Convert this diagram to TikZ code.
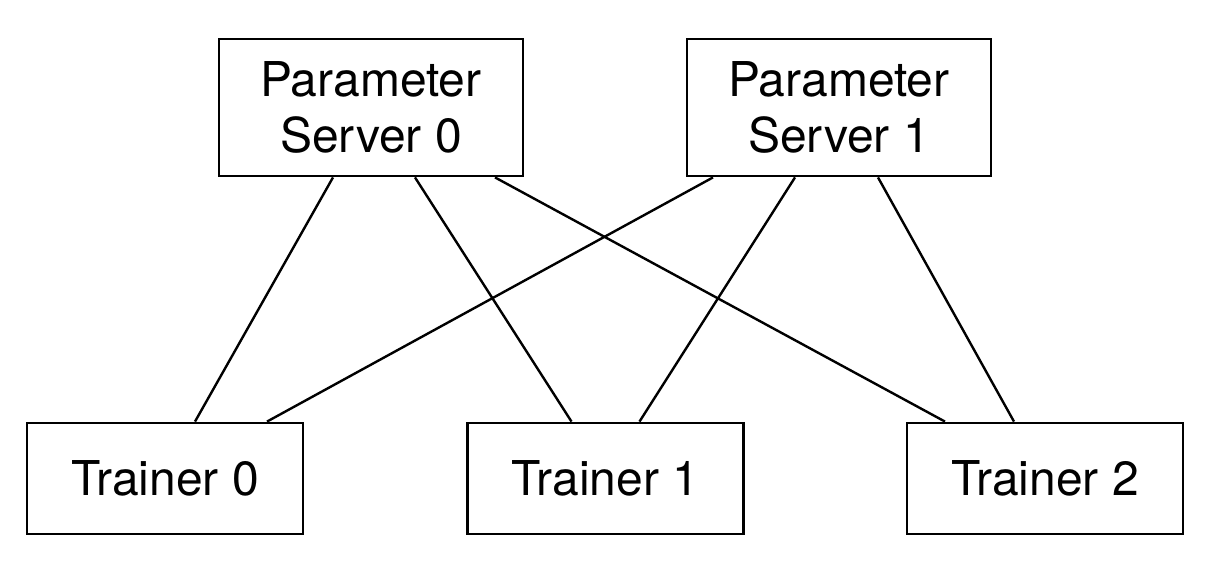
\documentclass[tikz,border=0pt]{standalone}
\usepackage{fontspec}
\setmainfont{TeX Gyre Heros}
\begin{document}
\begin{tikzpicture}[x=0.5pt, y=-0.5pt,
    server/.style = {draw, line width=1.4pt, minimum width=152pt, minimum height=68.5pt,
                     align=center, inner sep=0pt, font=\fontsize{24}{28}\selectfont},
    trainer/.style = {draw, line width=1.4pt, minimum width=138pt, minimum height=55.5pt,
                      inner sep=0pt, font=\fontsize{24}{28}\selectfont},
    link/.style = {line width=1.2pt}]
        \useasboundingbox (0, 0) rectangle (1222, 562);

        \node [ server ] (ps0) at (371, 107.5) {Parameter\\Server 0};
        \node [ server ] (ps1) at (839, 107.5) {Parameter\\Server 1};

        \node [ trainer ] (t0) at (165, 478.5) {Trainer 0};
        \node [ trainer ] (t1) at (605.5, 478.5) {Trainer 1};
        \node [ trainer ] (t2) at (1045, 478.5) {Trainer 2};

        \draw [ link ] ([xshift=-19pt]ps0.south) -- ([xshift=15pt]t0.north);
        \draw [ link ] ([xshift=22pt]ps0.south) -- ([xshift=-17pt]t1.north);
        \draw [ link ] ([xshift=62pt]ps0.south) -- ([xshift=-50pt]t2.north);

        \draw [ link ] ([xshift=-63pt]ps1.south) -- ([xshift=51pt]t0.north);
        \draw [ link ] ([xshift=-22pt]ps1.south) -- ([xshift=17pt]t1.north);
        \draw [ link ] ([xshift=19.5pt]ps1.south) -- ([xshift=-15.5pt]t2.north);
      \end{tikzpicture}
\end{document}
